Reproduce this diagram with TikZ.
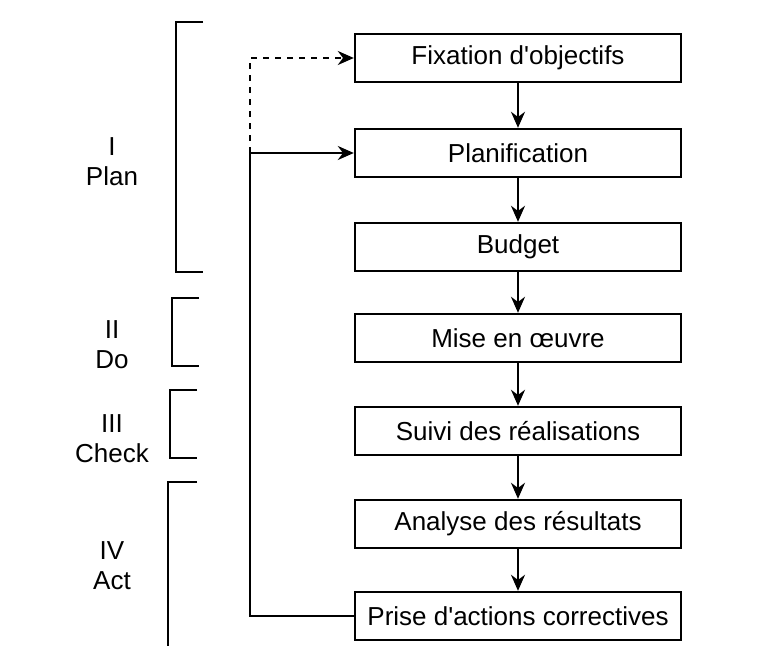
\documentclass[tikz,border=0pt]{standalone}
\usepackage{fontspec}
\setmainfont{Liberation Sans}
\usepackage{tikz}
\usetikzlibrary{arrows.meta}

\begin{document}
\begin{tikzpicture}[x=0.5pt, y=-0.5pt,
    etape/.style={draw, line width=1.2pt, minimum width=163pt, minimum height=24pt,
        font=\fontsize{13}{15}\selectfont},
    phase/.style={align=center, font=\fontsize{13}{15}\selectfont},
    fleche/.style={line width=1pt, -{Stealth[length=8pt, width=7pt]}},
    crochet/.style={line width=1.1pt}]
    \useasboundingbox (0,0) rectangle (776,646);

    % the seven steps
    \node[etape] (fix) at (518, 58) {Fixation d\textquotesingle objectifs};
    \node[etape] (plan) at (518, 153) {Planification};
    \node[etape] (budget) at (518, 247) {Budget};
    \node[etape] (mise) at (518, 338) {Mise en œuvre};
    \node[etape] (suivi) at (518, 431) {Suivi des réalisations};
    \node[etape] (analyse) at (518, 524) {Analyse des résultats};
    \node[etape] (prise) at (518, 616) {Prise d\textquotesingle actions correctives};

    % down the chain
    \draw[fleche] (fix) -- (plan);
    \draw[fleche] (plan) -- (budget);
    \draw[fleche] (budget) -- (mise);
    \draw[fleche] (mise) -- (suivi);
    \draw[fleche] (suivi) -- (analyse);
    \draw[fleche] (analyse) -- (prise);

    % feedback loop
    \coordinate (retour) at (250, 153);
    \draw[fleche] (prise.west) -| (retour) -- (plan.west);
    \draw[fleche, dashed] (retour) |- (fix.west);

    % phases on the left
    \draw[crochet] (203, 22) -- (176, 22) -- (176, 272) -- (203, 272);
    \node[phase] (pplan) at (112, 162) {I\\Plan};

    \draw[crochet] (199, 298) -- (172, 298) -- (172, 366) -- (199, 366);
    \node[phase] (pdo) at (112, 345) {II\\Do};

    \draw[crochet] (197, 390) -- (170, 390) -- (170, 458) -- (197, 458);
    \node[phase] (pcheck) at (112, 439) {III\\Check};

    \draw[crochet] (197, 482) -- (168, 482) -- (168, 646);
    \node[phase] (pact) at (112, 566) {IV\\Act};
\end{tikzpicture}
\end{document}
